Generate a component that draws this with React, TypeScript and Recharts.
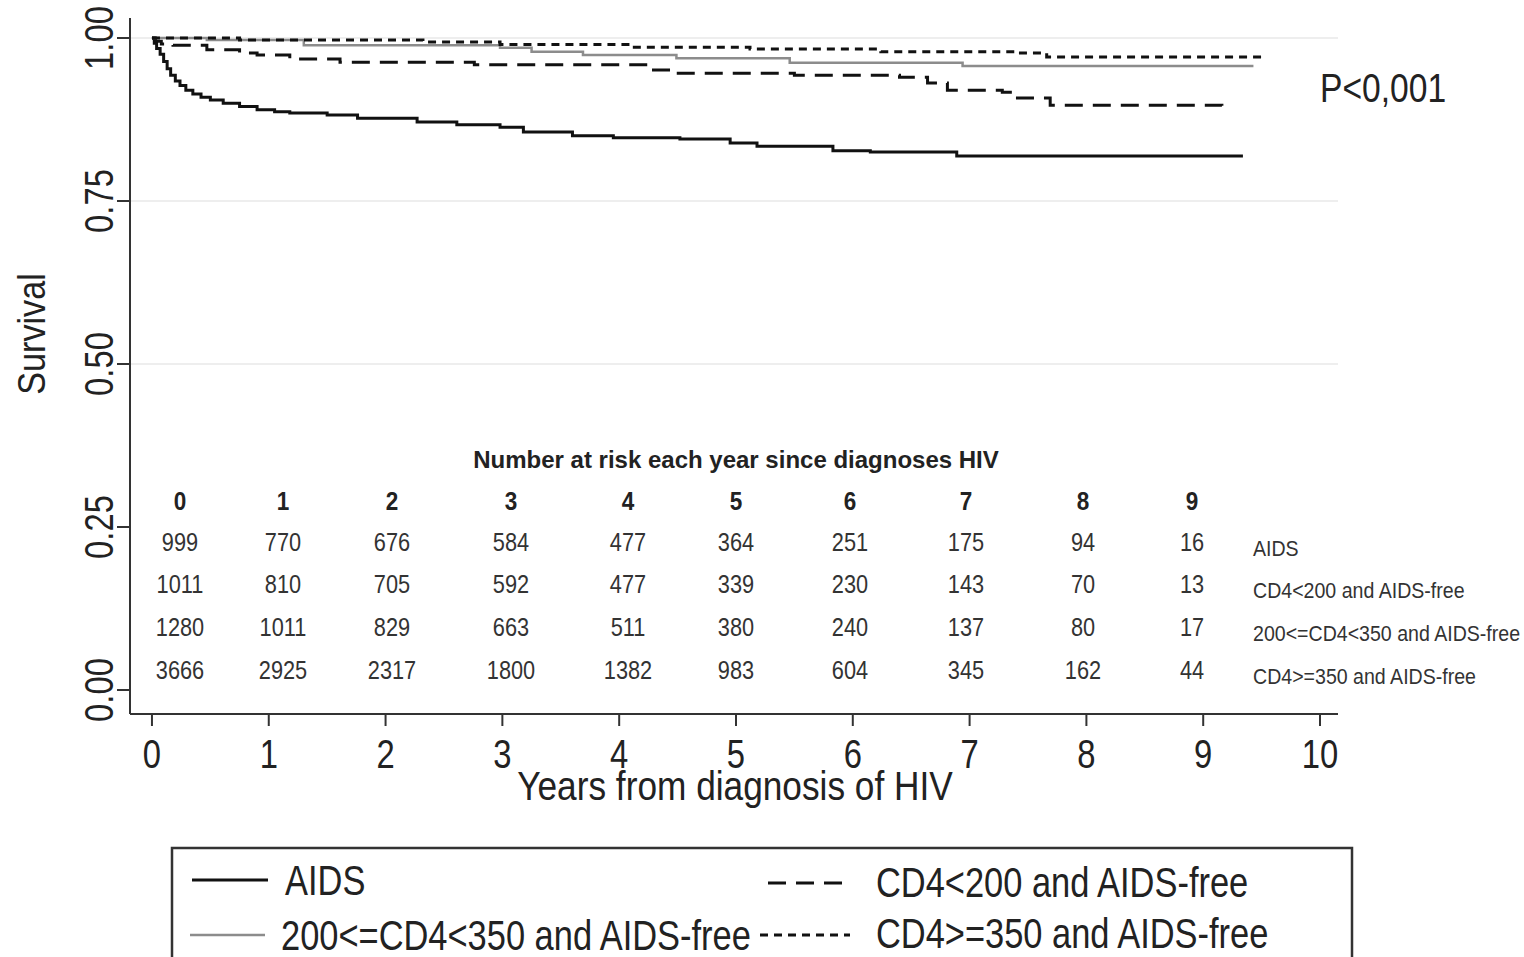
import { LineChart, Line, XAxis, YAxis, CartesianGrid } from "recharts";

const FONT = "'Liberation Sans', Arial, sans-serif";

// Kaplan-Meier estimates: [years, survival]
const aidsCurve = [
  [0, 1.0], [0.02, 0.992], [0.04, 0.984], [0.07, 0.975], [0.1, 0.964], [0.13, 0.953],
  [0.16, 0.943], [0.2, 0.934], [0.24, 0.927], [0.29, 0.92], [0.35, 0.914], [0.42, 0.909],
  [0.5, 0.905], [0.61, 0.9], [0.75, 0.895], [0.9, 0.89], [1.05, 0.887], [1.18, 0.885],
  [1.5, 0.882], [1.76, 0.877], [2.27, 0.871], [2.61, 0.867], [2.98, 0.863], [3.18, 0.856],
  [3.6, 0.85], [3.95, 0.847], [4.52, 0.845], [4.95, 0.839], [5.18, 0.834], [5.83, 0.827],
  [6.15, 0.825], [6.89, 0.819], [9.34, 0.819],
];
const cd4Under200Curve = [
  [0, 1.0], [0.03, 0.995], [0.08, 0.991], [0.18, 0.989], [0.47, 0.982], [0.75, 0.977],
  [0.9, 0.974], [1.18, 0.968], [1.61, 0.963], [2.76, 0.959], [4.27, 0.951], [4.46, 0.946],
  [5.5, 0.943], [6.4, 0.94], [6.64, 0.931], [6.81, 0.92], [7.28, 0.917], [7.37, 0.908],
  [7.69, 0.897], [9.16, 0.896],
];
const cd4200to350Curve = [
  [0, 1.0], [0.47, 0.997], [1.3, 0.989], [2.98, 0.985], [3.25, 0.979], [3.69, 0.974],
  [4.49, 0.969], [5.46, 0.962], [6.94, 0.957], [9.43, 0.957],
];
const cd4Over350Curve = [
  [0, 1.0], [0.75, 0.997], [2.32, 0.994], [2.98, 0.99], [4.09, 0.986], [5.12, 0.983],
  [6.24, 0.979], [7.41, 0.977], [7.66, 0.971], [9.53, 0.969],
];

const groupNames = [
  "AIDS",
  "CD4<200 and AIDS-free",
  "200<=CD4<350 and AIDS-free",
  "CD4>=350 and AIDS-free",
];

// number at risk table
const riskYears = [0, 1, 2, 3, 4, 5, 6, 7, 8, 9];
const riskAids = [999, 770, 676, 584, 477, 364, 251, 175, 94, 16];
const riskCd4Under200 = [1011, 810, 705, 592, 477, 339, 230, 143, 70, 13];
const riskCd4200to350 = [1280, 1011, 829, 663, 511, 380, 240, 137, 80, 17];
const riskCd4Over350 = [3666, 2925, 2317, 1800, 1382, 983, 604, 345, 162, 44];

const xTicks = [0, 1, 2, 3, 4, 5, 6, 7, 8, 9, 10];
const yTicks = [0, 0.25, 0.5, 0.75, 1];
const gridValues = [0.5, 0.75, 1];

const toPoints = (c: number[][]) => c.map(([t, s]) => ({ t, s }));

const series = [
  { name: groupNames[0], data: toPoints(aidsCurve), stroke: "#111", width: 3, dash: undefined },
  { name: groupNames[1], data: toPoints(cd4Under200Curve), stroke: "#111", width: 3, dash: "18 10" },
  { name: groupNames[2], data: toPoints(cd4200to350Curve), stroke: "#8c8c8c", width: 2.5, dash: undefined },
  { name: groupNames[3], data: toPoints(cd4Over350Curve), stroke: "#111", width: 3, dash: "8 6" },
];
const riskRows = [riskAids, riskCd4Under200, riskCd4200to350, riskCd4Over350];

const W = 1524;
const H = 957;
const PLOT_LEFT = 130;
const PLOT_RIGHT = 1338;
const PLOT_TOP = 18;
const PLOT_BOTTOM = 714;
const colX = [180, 283, 392, 511, 628, 736, 850, 966, 1083, 1192];
const rowY = [551, 593, 636, 679];
const rowLabelY = [556, 598, 641, 684];

// narrow text: Arial Narrow isn't installed, so squeeze Liberation Sans horizontally
function NText({ x, y, size, sx = 0.82, anchor = "start", bold = false, rotate = false, fill = "#222", children }: any) {
  return (
    <text
      transform={`translate(${x}, ${y})${rotate ? " rotate(-90)" : ""} scale(${sx}, 1)`}
      textAnchor={anchor}
      fontSize={size}
      fontWeight={bold ? "bold" : "normal"}
      fill={fill}
      fontFamily={FONT}
    >
      {children}
    </text>
  );
}

function XTick({ x, payload }: any) {
  return (
    <NText x={x} y={PLOT_BOTTOM + 54} size={40} anchor="middle">
      {payload.value}
    </NText>
  );
}

function YTick({ y, payload }: any) {
  return (
    <NText x={113} y={y} size={40} anchor="middle" rotate>
      {payload.value.toFixed(2)}
    </NText>
  );
}

export default function App() {
  return (
    <div style={{ position: "absolute", left: 0, top: 0, width: W, height: H, background: "#fff" }}>
      <LineChart
        width={W}
        height={H}
        margin={{ top: PLOT_TOP, right: W - PLOT_RIGHT, left: 0, bottom: 0 }}
      >
        <CartesianGrid vertical={false} horizontalValues={gridValues} stroke="#e9e9e9" strokeWidth={1.5} />
        <XAxis
          type="number"
          dataKey="t"
          domain={[-0.188, 10.154]}
          allowDataOverflow
          ticks={xTicks}
          tick={<XTick />}
          tickSize={12}
          height={H - PLOT_BOTTOM}
          stroke="#333"
          strokeWidth={2}
        />
        <YAxis
          type="number"
          dataKey="s"
          domain={[-0.0368, 1.0307]}
          allowDataOverflow
          ticks={yTicks}
          tick={<YTick />}
          tickSize={13}
          width={PLOT_LEFT}
          stroke="#333"
          strokeWidth={2}
        />
        {series.map((s) => (
          <Line
            key={s.name}
            data={s.data}
            dataKey="s"
            name={s.name}
            type="stepAfter"
            stroke={s.stroke}
            strokeWidth={s.width}
            strokeDasharray={s.dash}
            dot={false}
            activeDot={false}
            isAnimationActive={false}
          />
        ))}

        <NText x={45} y={334} size={38} sx={0.9} anchor="middle" rotate>
          Survival
        </NText>
        <NText x={735} y={800} size={41} sx={0.86} anchor="middle">
          Years from diagnosis of HIV
        </NText>
        <NText x={1320} y={102} size={41}>
          P&lt;0,001
        </NText>

        <text x={736} y={468} textAnchor="middle" fontSize={24} fontWeight="bold" fill="#222" fontFamily={FONT}>
          Number at risk each year since diagnoses HIV
        </text>
        {riskYears.map((yr, i) => (
          <NText key={"h" + yr} x={colX[i]} y={510} size={25} sx={0.9} bold anchor="middle">
            {yr}
          </NText>
        ))}
        {riskRows.map((row, r) =>
          row.map((n, i) => (
            <NText key={r + "-" + i} x={colX[i]} y={rowY[r]} size={25} sx={0.87} anchor="middle" fill="#333">
              {n}
            </NText>
          ))
        )}
        {groupNames.map((g, r) => (
          <NText key={"rl" + r} x={1253} y={rowLabelY[r]} size={22} sx={0.89} fill="#333">
            {g}
          </NText>
        ))}

        {/* legend */}
        <rect x={172} y={848} width={1180} height={140} fill="none" stroke="#333" strokeWidth={2.5} />
        <line x1={192} y1={880} x2={268} y2={880} stroke="#111" strokeWidth={3} />
        <NText x={285} y={895} size={42}>{groupNames[0]}</NText>
        <line x1={768} y1={883} x2={850} y2={883} stroke="#111" strokeWidth={3} strokeDasharray="18 10" />
        <NText x={876} y={897} size={42}>{groupNames[1]}</NText>
        <line x1={190} y1={935} x2={265} y2={935} stroke="#8c8c8c" strokeWidth={2.5} />
        <NText x={281} y={950} size={42}>{groupNames[2]}</NText>
        <line x1={760} y1={935} x2={850} y2={935} stroke="#111" strokeWidth={3} strokeDasharray="8 6" />
        <NText x={876} y={948} size={42}>{groupNames[3]}</NText>
      </LineChart>
    </div>
  );
}
